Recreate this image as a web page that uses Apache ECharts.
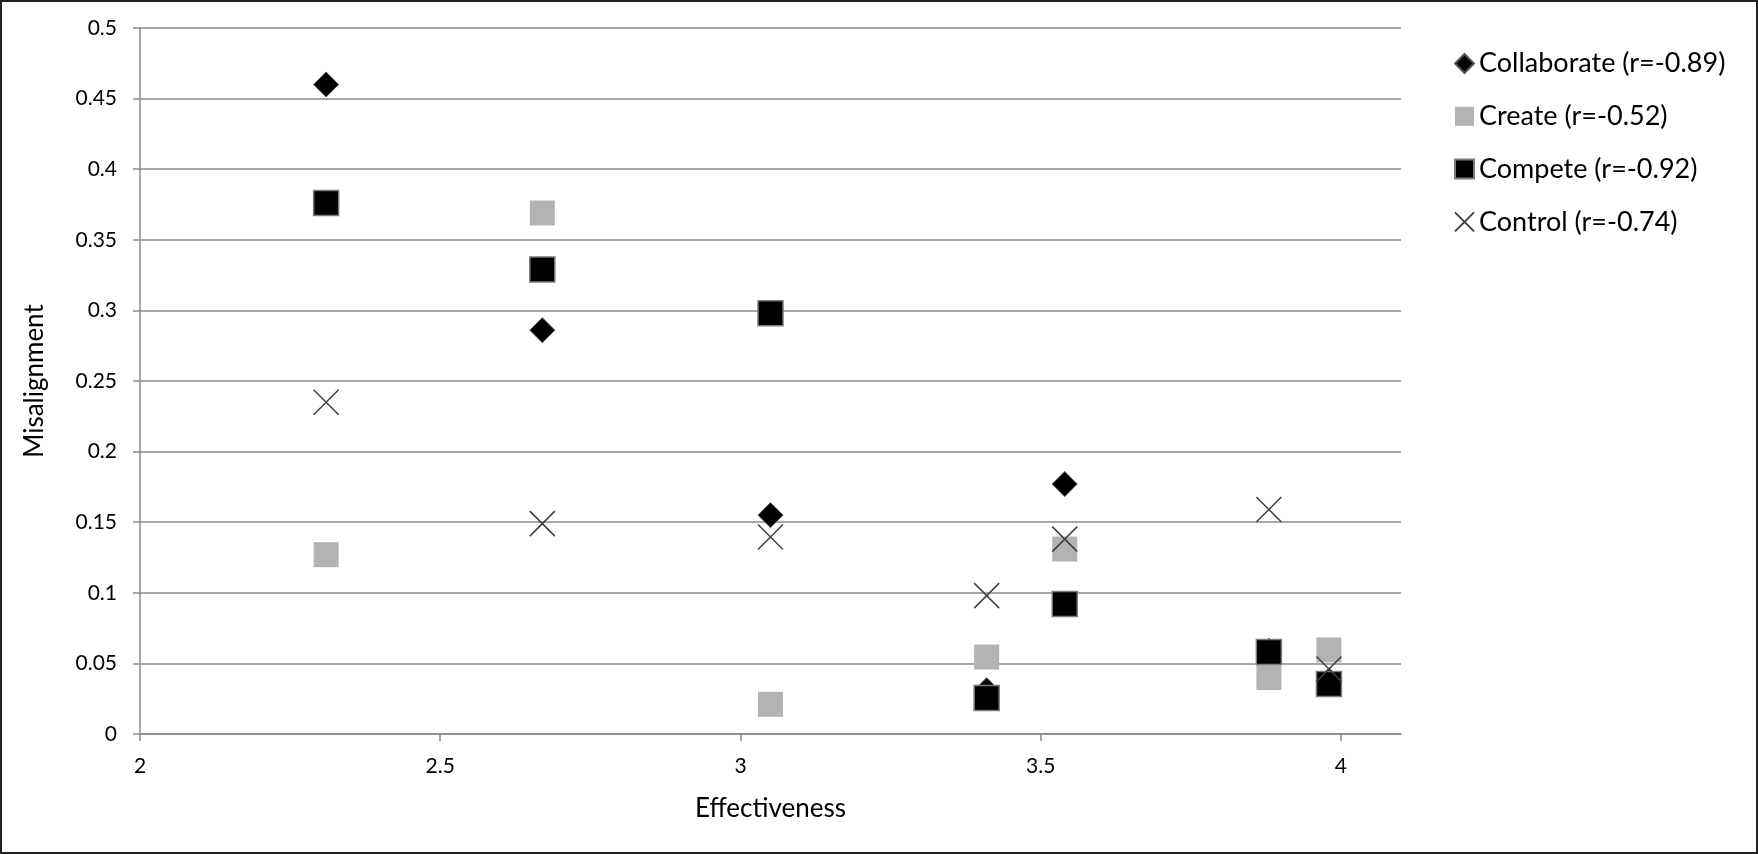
<!DOCTYPE html>
<html>
<head>
<meta charset="utf-8">
<script src="https://cdn.jsdelivr.net/npm/echarts@6/dist/echarts.min.js"></script>
<style>
  html, body { margin: 0; padding: 0; background: #fff; }
  #wrap { position: relative; width: 1758px; height: 854px; }
  #chart { position: absolute; left: 0; top: 0; width: 1758px; height: 854px; }
  #frame { position: absolute; left: 0; top: 0; width: 1758px; height: 854px; box-sizing: border-box; border: 2px solid #222; pointer-events: none; }
</style>
</head>
<body>
<div id="wrap"><div id="chart"></div><div id="frame"></div></div>
<script>
const effectiveness = [2.31, 2.67, 3.05, 3.41, 3.54, 3.88, 3.98];
const collaborate = [0.460, 0.286, 0.155, 0.031, 0.177, 0.059, 0.038];
const create = [0.127, 0.369, 0.021, 0.0545, 0.131, 0.040, 0.0595];
const compete = [0.376, 0.329, 0.298, 0.0255, 0.092, 0.058, 0.0354];
const control = [0.235, 0.149, 0.1395, 0.098, 0.138, 0.159, 0.046];
const seriesNames = ['Collaborate (r=-0.89)', 'Create (r=-0.52)', 'Compete (r=-0.92)', 'Control (r=-0.74)'];
const xTicks = [2, 2.5, 3, 3.5, 4];

const FONT = 'Lato';
const pairs = ys => effectiveness.map((x, i) => [x, ys[i]]);
const crossPath = 'path://M0,0L10,10M10,0L0,10';

const chart = echarts.init(document.getElementById('chart'), null, { renderer: 'canvas' });
chart.setOption({
  animation: false,
  backgroundColor: '#fff',
  grid: { left: 140, right: 357, top: 28, bottom: 120 },
  legend: {
    orient: 'vertical',
    left: 1454,
    top: 50,
    padding: 0,
    itemWidth: 19,
    itemHeight: 19,
    itemGap: 25.8,
    textStyle: { fontFamily: FONT, fontSize: 27, color: '#000' },
    data: seriesNames
  },
  xAxis: {
    type: 'value',
    min: 2,
    max: 4.1,
    interval: 0.5,
    name: 'Effectiveness',
    nameLocation: 'middle',
    nameGap: 62,
    nameTextStyle: { fontFamily: FONT, fontSize: 26, color: '#000' },
    axisLine: { show: true, lineStyle: { color: '#8a8a8a', width: 1.5 } },
    axisTick: { show: true, length: 7, lineStyle: { color: '#8a8a8a', width: 1.5 }, customValues: xTicks },
    axisLabel: { fontFamily: FONT, fontSize: 21, color: '#000', margin: 22, customValues: xTicks },
    splitLine: { show: false }
  },
  yAxis: {
    type: 'value',
    min: 0,
    max: 0.5,
    interval: 0.05,
    name: 'Misalignment',
    nameLocation: 'middle',
    nameGap: 92,
    nameTextStyle: { fontFamily: FONT, fontSize: 26, color: '#000' },
    axisLine: { show: true, lineStyle: { color: '#8a8a8a', width: 1.5 } },
    axisTick: { show: true, length: 7, lineStyle: { color: '#8a8a8a', width: 1.5 } },
    axisLabel: { fontFamily: FONT, fontSize: 21, color: '#000', margin: 23 },
    splitLine: { show: true, lineStyle: { color: '#8a8a8a', width: 1.5 } }
  },
  series: [
    {
      name: seriesNames[0], type: 'scatter', symbol: 'diamond', symbolSize: 25,
      itemStyle: { color: '#000', borderColor: '#555', borderWidth: 1, opacity: 1 },
      data: pairs(collaborate)
    },
    {
      name: seriesNames[1], type: 'scatter', symbol: 'rect', symbolSize: 25,
      itemStyle: { color: '#b3b3b3', opacity: 1 },
      data: pairs(create)
    },
    {
      name: seriesNames[2], type: 'scatter', symbol: 'rect', symbolSize: 25,
      itemStyle: { color: '#000', borderColor: '#7a7a7a', borderWidth: 1.5, opacity: 1 },
      data: pairs(compete)
    },
    {
      name: seriesNames[3], type: 'scatter', symbol: crossPath, symbolSize: 25,
      itemStyle: { color: 'rgba(0,0,0,0)', borderColor: '#404040', borderWidth: 1.5, opacity: 1 },
      data: pairs(control)
    }
  ]
});
</script>
</body>
</html>
